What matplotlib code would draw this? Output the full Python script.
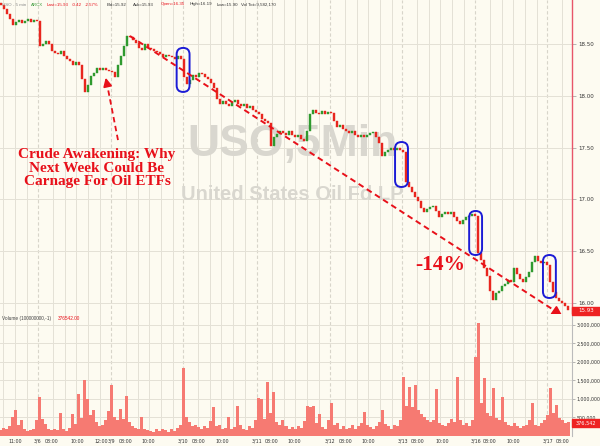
import matplotlib.pyplot as plt
from matplotlib.patches import FancyBboxPatch
from matplotlib.ticker import FixedLocator, FuncFormatter
import numpy as np

# === USO 5-min bars (about one bar every 3 px) ===
first_open = 18.90
closes = [
    18.88, 18.84, 18.79, 18.74, 18.68, 18.71, 18.73, 18.70, 18.72, 18.74,
    18.71, 18.73, 18.72, 18.48, 18.50, 18.53, 18.50, 18.43, 18.41, 18.40,
    18.43, 18.38, 18.36, 18.34, 18.30, 18.33, 18.30, 18.16, 18.04, 18.10,
    18.19, 18.22, 18.27, 18.25, 18.27, 18.25, 18.24, 18.23, 18.18, 18.30,
    18.38, 18.48, 18.58, 18.57, 18.54, 18.51, 18.46, 18.44, 18.50, 18.46,
    18.45, 18.43, 18.42, 18.40, 18.37, 18.39, 18.38, 18.37, 18.36, 18.38,
    18.36, 18.18, 18.11, 18.15, 18.20, 18.18, 18.22, 18.21, 18.18, 18.16,
    18.12, 18.08, 17.97, 17.92, 17.95, 17.92, 17.90, 17.94, 17.96, 17.92,
    17.90, 17.92, 17.88, 17.90, 17.86, 17.84, 17.82, 17.78, 17.76, 17.74,
    17.52, 17.60, 17.63, 17.66, 17.64, 17.62, 17.66, 17.62, 17.60, 17.62,
    17.58, 17.56, 17.66, 17.82, 17.86, 17.83, 17.82, 17.85, 17.82, 17.84,
    17.83, 17.76, 17.70, 17.72, 17.68, 17.66, 17.64, 17.66, 17.62, 17.60,
    17.62, 17.60, 17.62, 17.64, 17.65, 17.60, 17.54, 17.42, 17.46, 17.48,
    17.50, 17.48, 17.50, 17.48, 17.46, 17.17, 17.12, 17.07, 17.02, 16.98,
    16.92, 16.88, 16.91, 16.93, 16.94, 16.89, 16.83, 16.86, 16.88, 16.86,
    16.88, 16.83, 16.79, 16.76, 16.80, 16.83, 16.84, 16.86, 16.84, 16.48,
    16.42, 16.34, 16.26, 16.12, 16.03, 16.10, 16.12, 16.16, 16.18, 16.22,
    16.20, 16.34, 16.28, 16.23, 16.20, 16.25, 16.30, 16.40, 16.45, 16.41,
    16.39, 16.40, 16.37, 16.20, 16.11, 16.05, 16.02, 16.00, 15.97, 15.93,
]

# volume per bar, in thousands of shares
volume_k = [
    150, 220, 180, 260, 520, 700, 300, 440, 180, 140,
    160, 200, 420, 1060, 450, 320, 180, 150, 200, 170,
    630, 180, 140, 220, 600, 320, 1140, 480, 1520, 1000,
    560, 700, 380, 260, 300, 420, 680, 1390, 500, 420,
    720, 460, 1090, 380, 260, 220, 180, 520, 200, 160,
    140, 120, 180, 140, 200, 160, 120, 180, 140, 220,
    300, 1840, 520, 380, 260, 300, 240, 200, 280, 220,
    400, 770, 260, 300, 180, 220, 520, 200, 240, 820,
    300, 200, 160, 260, 220, 420, 1040, 1000, 460, 1470,
    620, 1200, 380, 300, 420, 260, 200, 240, 180, 260,
    220, 400, 820, 780, 800, 360, 600, 240, 200, 420,
    900, 300, 340, 200, 260, 180, 220, 300, 200, 260,
    340, 660, 300, 240, 200, 280, 380, 700, 320, 260,
    200, 300, 260, 420, 1600, 820, 1330, 780, 1390, 700,
    600, 520, 440, 380, 420, 1280, 360, 300, 280, 340,
    460, 380, 1600, 420, 300, 360, 260, 420, 2140, 3050,
    900, 1570, 620, 540, 1300, 480, 420, 1060, 380, 300,
    260, 340, 280, 220, 260, 300, 420, 900, 300, 260,
    340, 420, 560, 1300, 620, 850, 480, 420, 360, 377,
]

# time axis labels, positions in bar units
tick_pos = [4.7, 12.3, 17.0, 25.3, 33.3, 36.7, 41.7, 49.0, 60.7, 66.0, 73.7, 85.3, 90.3,
            97.7, 109.7, 115.0, 122.3, 134.0, 139.0, 147.0, 158.3, 163.0, 170.7, 182.3, 187.3]
tick_labels = ['11:00', '3/6', '08:00', '10:00', '12:00', '3/9', '08:00', '10:00', '3/10', '08:00',
               '10:00', '3/11', '08:00', '10:00', '3/12', '08:00', '10:00', '3/13', '08:00', '10:00',
               '3/16', '08:00', '10:00', '3/17', '08:00']
day_starts = [-12.0, 12.3, 36.7, 60.7, 85.3, 109.7, 133.7, 158.0, 182.0]
hour_offsets = [5.0, 9.0, 12.7, 16.7, 20.7]

price_ticks = [16.0, 16.5, 17.0, 17.5, 18.0, 18.5]
vol_ticks = [500000, 1000000, 1500000, 2000000, 2500000, 3000000]

last_price = 15.93
last_vol = 376542

bg = '#fdfbf1'
grid_c = '#e4e1d6'
up_c = '#2f9a2f'
dn_c = '#e8261e'
red_txt = '#e8101a'

fig = plt.figure(figsize=(6, 4.46), dpi=100)
fig.patch.set_facecolor(bg)
W, H = 600, 446

ax = fig.add_axes([0, 1 - 314 / H, 572 / W, 314 / H])
axv = fig.add_axes([0, 10 / H, 572 / W, 122 / H], sharex=ax)

n = len(closes)
idx = np.arange(n)
opens = np.array([first_open] + closes[:-1])
cl = np.array(closes)
up = cl >= opens

for a in (ax, axv):
    a.set_facecolor(bg)
    for s in a.spines.values():
        s.set_visible(False)
    for d in day_starts:
        if d >= 0:
            a.axvline(d, color='#d8d5ca', lw=0.8, ls=(0, (3, 2)), zorder=0)
        for off in hour_offsets:
            a.axvline(d + off, color=grid_c, lw=0.7, zorder=0)

# watermark
ax.text(97, 17.53, 'USO,5Min', fontsize=32, fontweight='bold', color='#d9d7cf',
        ha='center', va='center', zorder=1, family='Liberation Sans')
ax.text(97, 17.05, 'United States Oil Fd LP', fontsize=14.5, fontweight='bold', color='#d9d7cf',
        ha='center', va='center', zorder=1, family='Liberation Sans')

# candles
bottoms = np.minimum(opens, cl)
heights = np.maximum(np.abs(cl - opens), 0.006)
colors = np.where(up, up_c, dn_c)
ax.bar(idx, heights, bottom=bottoms, width=0.6, color=colors, edgecolor=colors,
       linewidth=0.3, zorder=3)

ax.set_xlim(-0.33, 190.33)
ax.set_ylim(15.894, 18.925)
ax.yaxis.tick_right()
ax.yaxis.set_major_locator(FixedLocator(price_ticks))
ax.yaxis.set_major_formatter(FuncFormatter(lambda v, p: f'{v:.2f}'))
ax.tick_params(axis='y', direction='out', length=3, width=0.5, color='#999999',
               labelsize=4.0, labelcolor='#333333', pad=1.5)
ax.tick_params(axis='x', which='both', bottom=False, labelbottom=False)
for t in price_ticks:
    ax.axhline(t, color=grid_c, lw=0.7, zorder=0)
ax.axvline(190.33, color='#e8556a', lw=1.0, clip_on=False)

# volume
axv.bar(idx, np.array(volume_k) * 1000, width=1.0, color='#f67a72', edgecolor='none', zorder=2)
axv.set_ylim(0, 3296000)
axv.yaxis.tick_right()
axv.yaxis.set_major_locator(FixedLocator(vol_ticks))
axv.yaxis.set_major_formatter(FuncFormatter(lambda v, p: f'{v:,.0f}'))
axv.tick_params(axis='y', direction='out', length=2.5, width=0.5, color='#999999',
                labelsize=3.4, labelcolor='#333333', pad=1.0)
for t in vol_ticks:
    axv.axhline(t, color=grid_c, lw=0.7, zorder=0)
axv.axvline(190.33, color='#bbbbbb', lw=0.8, clip_on=False)
axv.xaxis.set_major_locator(FixedLocator(tick_pos))
axv.set_xticklabels(tick_labels)
axv.tick_params(axis='x', length=0, labelsize=3.4, labelcolor='#333333', pad=2)

# blue marks around the overnight gaps
for cx, cy, h in [(60.7, 18.25, 0.425), (133.5, 17.337, 0.434), (158.2, 16.676, 0.425), (182.8, 16.256, 0.415)]:
    w = 4.3
    box = FancyBboxPatch((cx - w / 2, cy - h / 2), w, h,
                         boxstyle=f'round,pad=0,rounding_size={w / 2}',
                         mutation_aspect=0.029, fill=False, ec='#1c1cd6', lw=1.4, zorder=5)
    ax.add_patch(box)

# trend arrow
ax.plot([43, 186.5], [18.577, 15.89], color=red_txt, lw=1.4, ls=(0, (3, 2)), zorder=6, clip_on=False)
ax.annotate('', xy=(188, 15.855), xytext=(185.5, 15.905),
            arrowprops=dict(arrowstyle='-|>,head_length=0.6,head_width=0.3', color=red_txt, lw=1.4),
            annotation_clip=False, zorder=6)
# small arrow to the headline
ax.plot([39, 35.3], [17.573, 18.12], color=red_txt, lw=1.3, ls=(0, (3, 2)), zorder=6)
ax.annotate('', xy=(34.7, 18.201), xytext=(35.4, 18.11),
            arrowprops=dict(arrowstyle='-|>,head_length=0.5,head_width=0.25', color=red_txt, lw=1.3),
            zorder=6)

ax.text(32, 17.30, 'Crude Awakening: Why\nNext Week Could Be\nCarnage For Oil ETFs',
        family='Liberation Serif', fontweight='bold', fontsize=11, color=red_txt,
        ha='center', va='center', linespacing=1.05, zorder=7)
ax.text(146.3, 16.367, '-14%', family='Liberation Serif', fontweight='bold', fontsize=15.5,
        color=red_txt, ha='center', va='center', zorder=7)

# last value boxes on the right axis
fig.patches.append(plt.Rectangle((572 / W, (H - 315) / H), 28 / W, 8 / H, transform=fig.transFigure,
                                 color='#ee2222', zorder=10))
fig.text(586 / W, (H - 311) / H, f'{last_price:.2f}', fontsize=4.0, color='white',
         ha='center', va='center', zorder=11)
fig.patches.append(plt.Rectangle((572 / W, (H - 427) / H), 28 / W, 8 / H, transform=fig.transFigure,
                                 color='#ee2222', zorder=10))
fig.text(586 / W, (H - 423) / H, f'{last_vol:,}', fontsize=3.6, color='white',
         ha='center', va='center', zorder=11)

# header line
hy = 1 - 4.5 / H
header = [
    (2, 'USO - 5 min', '#888888'), (31, 'ARCX', '#3a9a3a'), (47, 'Last=15.93', red_txt),
    (72, '-0.42', red_txt), (85, '-2.57%', red_txt), (107, 'Bid=15.92', '#333333'),
    (133, 'Ask=15.93', '#333333'), (161, 'Open=16.35', red_txt), (190, 'High=16.19', '#333333'),
    (217, 'Low=15.90', '#333333'), (241, 'Vol Tot=9,582,170', '#333333'),
]
for x, s, c in header:
    fig.text(x / W, hy, s, fontsize=3.2, color=c, ha='left', va='center', family='Liberation Sans')

vy = 1 - 318.5 / H
fig.text(2 / W, vy, 'Volume (100000000,-1)', fontsize=3.4, color='#444444', va='center', family='Liberation Sans')
fig.text(58 / W, vy, '376542.00', fontsize=3.4, color=red_txt, va='center', family='Liberation Sans')

plt.savefig('out.png', dpi=100, facecolor=bg)
